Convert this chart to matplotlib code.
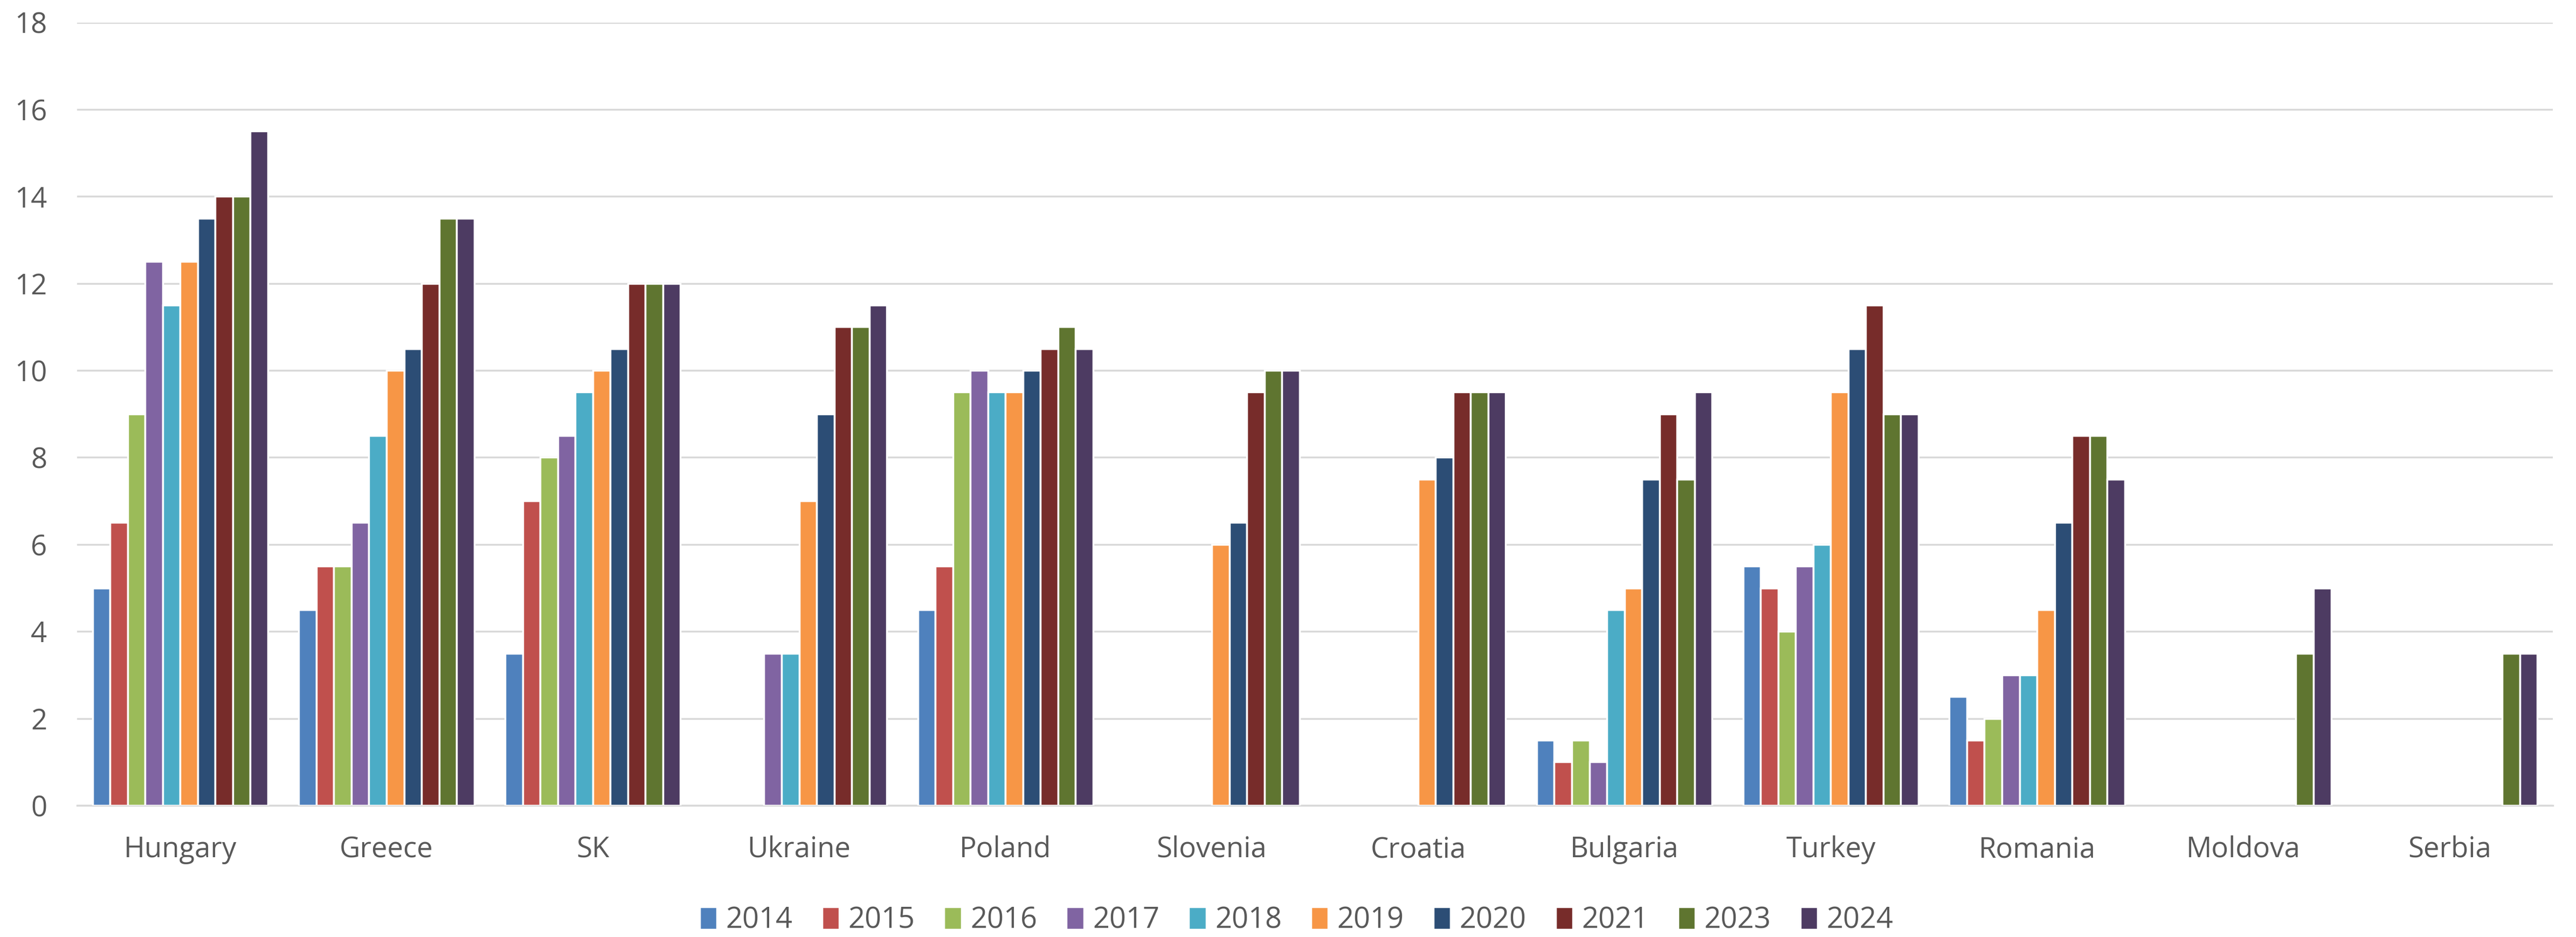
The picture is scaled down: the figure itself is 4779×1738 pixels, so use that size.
import numpy as np
import matplotlib.pyplot as plt

plt.rcParams['font.family'] = ['Open Sans', 'DejaVu Sans']

countries = ['Hungary', 'Greece', 'SK', 'Ukraine', 'Poland', 'Slovenia',
             'Croatia', 'Bulgaria', 'Turkey', 'Romania', 'Moldova', 'Serbia']
years = ['2014', '2015', '2016', '2017', '2018', '2019', '2020', '2021', '2023', '2024']
nan = np.nan

# one list per year, in country order (nan = no bar)
v2014 = [5, 4.5, 3.5, nan, 4.5, nan, nan, 1.5, 5.5, 2.5, nan, nan]
v2015 = [6.5, 5.5, 7, nan, 5.5, nan, nan, 1, 5, 1.5, nan, nan]
v2016 = [9, 5.5, 8, nan, 9.5, nan, nan, 1.5, 4, 2, nan, nan]
v2017 = [12.5, 6.5, 8.5, 3.5, 10, nan, nan, 1, 5.5, 3, nan, nan]
v2018 = [11.5, 8.5, 9.5, 3.5, 9.5, nan, nan, 4.5, 6, 3, nan, nan]
v2019 = [12.5, 10, 10, 7, 9.5, 6, 7.5, 5, 9.5, 4.5, nan, nan]
v2020 = [13.5, 10.5, 10.5, 9, 10, 6.5, 8, 7.5, 10.5, 6.5, nan, nan]
v2021 = [14, 12, 12, 11, 10.5, 9.5, 9.5, 9, 11.5, 8.5, nan, nan]
v2023 = [14, 13.5, 12, 11, 11, 10, 9.5, 7.5, 9, 8.5, 3.5, 3.5]
v2024 = [15.5, 13.5, 12, 11.5, 10.5, 10, 9.5, 9.5, 9, 7.5, 5, 3.5]
series = [v2014, v2015, v2016, v2017, v2018, v2019, v2020, v2021, v2023, v2024]

colours = ['#4F81BD', '#C0504D', '#9BBB59', '#8064A2', '#4BACC6',
           '#F79646', '#2C4D75', '#772C2A', '#5F7530', '#4D3B62']

fig = plt.figure(figsize=(47.79, 17.38), dpi=100)
ax = fig.add_axes([0.0299, 0.1404, 0.9611, 0.8357])

x = np.arange(len(countries))
slot = 0.85 / len(years)
for i, vals in enumerate(series):
    pos = x - 0.425 + slot * (i + 0.5)
    ax.bar(pos, vals, width=slot, color=colours[i], edgecolor='white',
           linewidth=2.5, label=years[i], zorder=3)

ax.set_xlim(-0.5, len(countries) - 0.5)
ax.set_ylim(0, 18)
ax.set_yticks(np.arange(0, 19, 2))
ax.yaxis.grid(True, color='#D9D9D9', linewidth=2.5, zorder=0)
ax.set_axisbelow(True)
for s in ['top', 'right', 'left']:
    ax.spines[s].set_visible(False)
ax.spines['bottom'].set_color('#D9D9D9')
ax.spines['bottom'].set_linewidth(2.5)
ax.set_xticks(x)
ax.set_xticklabels(countries)
ax.tick_params(axis='both', length=0, labelsize=38, colors='#595959')
ax.tick_params(axis='x', pad=40)
ax.tick_params(axis='y', pad=40)

ax.legend(loc='center', bbox_to_anchor=(0.4925, -0.147), ncol=10, frameon=False,
          fontsize=39, labelcolor='#595959', handlelength=0.6, handleheight=0.8,
          handletextpad=0.3, columnspacing=1.0)

fig.savefig('out.png', dpi=100)
